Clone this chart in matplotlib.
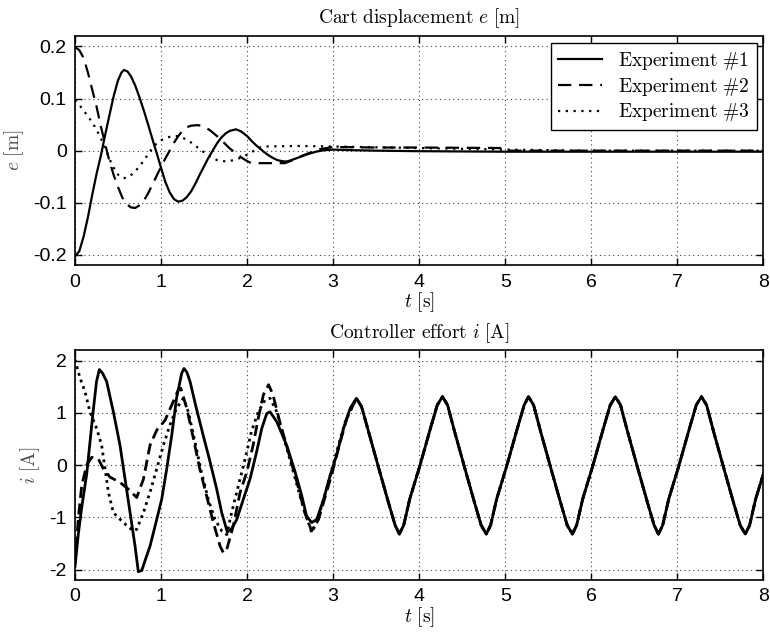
import matplotlib
matplotlib.use("Agg")
import matplotlib.pyplot as plt

plt.rcParams['mathtext.fontset'] = 'cm'
plt.rcParams['font.family'] = ['Liberation Sans', 'DejaVu Sans']

# ---- cart displacement e [m] ----
t_e1 = [0.0, 0.05, 0.10, 0.15, 0.20, 0.25, 0.30, 0.35, 0.40, 0.45, 0.50, 0.54, 0.57,
        0.61, 0.65, 0.70, 0.75, 0.80, 0.85, 0.90, 0.95, 1.00, 1.05, 1.10, 1.15, 1.20,
        1.25, 1.30, 1.35, 1.40, 1.45, 1.50, 1.55, 1.60, 1.65, 1.70, 1.75, 1.80, 1.87,
        1.93, 2.00, 2.05, 2.10, 2.15, 2.20, 2.25, 2.30, 2.35, 2.40, 2.45, 2.50, 2.60,
        2.70, 2.80, 2.90, 3.0, 3.2, 3.5, 4.0, 5.0, 8.0]
e1 = [-0.203, -0.193, -0.165, -0.128, -0.085, -0.045, -0.010, 0.030, 0.068, 0.105, 0.135, 0.150, 0.155,
      0.152, 0.143, 0.125, 0.102, 0.077, 0.050, 0.022, -0.005, -0.033, -0.060, -0.080, -0.093, -0.098,
      -0.096, -0.089, -0.078, -0.063, -0.046, -0.030, -0.014, 0.000, 0.014, 0.025, 0.033, 0.038, 0.041,
      0.037, 0.028, 0.019, 0.011, 0.004, -0.003, -0.009, -0.014, -0.018, -0.020, -0.021, -0.019, -0.013,
      -0.007, -0.002, 0.001, 0.002, 0.001, 0.0, -0.001, -0.002, -0.002]

t_e2 = [0.0, 0.05, 0.10, 0.15, 0.20, 0.25, 0.30, 0.35, 0.40, 0.45, 0.50, 0.55, 0.60,
        0.65, 0.70, 0.75, 0.80, 0.85, 0.90, 0.95, 1.00, 1.05, 1.10, 1.15, 1.20, 1.25,
        1.30, 1.35, 1.43, 1.50, 1.57, 1.65, 1.72, 1.80, 1.88, 1.95, 2.00, 2.05, 2.44,
        2.55, 2.65, 2.73, 2.85, 3.0, 3.5, 4.0, 5.0, 5.05, 8.0]
e2 = [0.199, 0.193, 0.178, 0.150, 0.117, 0.085, 0.047, 0.013, -0.020, -0.047, -0.070, -0.090, -0.103,
      -0.109, -0.110, -0.105, -0.096, -0.082, -0.065, -0.048, -0.031, -0.015, 0.000, 0.015, 0.028, 0.038,
      0.045, 0.048, 0.049, 0.046, 0.039, 0.028, 0.017, 0.004, -0.006, -0.015, -0.020, -0.024, -0.024,
      -0.017, -0.009, -0.004, 0.003, 0.007, 0.006, 0.006, 0.005, 0.0, 0.0]

t_e3 = [0.0, 0.05, 0.10, 0.15, 0.21, 0.26, 0.30, 0.35, 0.40, 0.45, 0.50, 0.56, 0.62,
        0.68, 0.74, 0.80, 0.86, 0.93, 1.00, 1.07, 1.13, 1.18, 1.25, 1.33, 1.41, 1.49,
        1.57, 1.65, 1.76, 1.85, 1.92, 2.00, 2.08, 2.15, 2.20, 2.60, 3.0, 4.0, 5.0, 6.0, 8.0]
e3 = [0.097, 0.088, 0.077, 0.066, 0.052, 0.037, 0.024, 0.005, -0.016, -0.033, -0.046, -0.053, -0.051,
      -0.043, -0.032, -0.019, -0.004, 0.011, 0.020, 0.025, 0.028, 0.028, 0.025, 0.018, 0.008, -0.002,
      -0.012, -0.018, -0.021, -0.018, -0.014, -0.008, 0.000, 0.006, 0.008, 0.009, 0.008, 0.005, 0.002, 0.0, 0.0]

# ---- controller effort i [A] ----
# steady oscillation shared by all three experiments after ~3.3 s
t_tail = [3.27, 3.33, 3.41, 3.52, 3.64, 3.72, 3.77, 3.82, 3.89, 4.01, 4.13, 4.21,
          4.27, 4.33, 4.41, 4.52, 4.64, 4.72, 4.78, 4.83, 4.90, 5.02, 5.14, 5.22,
          5.27, 5.33, 5.41, 5.52, 5.64, 5.72, 5.78, 5.83, 5.90, 6.02, 6.14, 6.22,
          6.28, 6.34, 6.42, 6.53, 6.65, 6.73, 6.78, 6.83, 6.90, 7.02, 7.14, 7.22,
          7.28, 7.34, 7.42, 7.53, 7.65, 7.73, 7.79, 7.84, 7.91, 8.0]
i_tail = [1.28, 1.12, 0.65, 0.0, -0.7, -1.15, -1.32, -1.15, -0.65, 0.0, 0.7, 1.15,
          1.31, 1.15, 0.65, 0.0, -0.7, -1.15, -1.32, -1.15, -0.65, 0.0, 0.7, 1.15,
          1.31, 1.15, 0.65, 0.0, -0.7, -1.15, -1.32, -1.15, -0.65, 0.0, 0.7, 1.15,
          1.31, 1.15, 0.65, 0.0, -0.7, -1.15, -1.32, -1.15, -0.65, 0.0, 0.7, 1.15,
          1.31, 1.15, 0.65, 0.0, -0.7, -1.15, -1.32, -1.15, -0.65, -0.17]

t_i1 = [0.0, 0.04, 0.078, 0.136, 0.213, 0.25, 0.283, 0.32, 0.368, 0.446, 0.523, 0.581, 0.64,
        0.698, 0.736, 0.775, 0.82, 0.872, 0.95, 1.008, 1.066, 1.124, 1.18, 1.24, 1.267, 1.30, 1.337,
        1.41, 1.49, 1.57, 1.647, 1.705, 1.77, 1.82, 1.88, 1.957, 2.035, 2.11, 2.17, 2.229,
        2.267, 2.345, 2.46, 2.558, 2.636, 2.69, 2.75, 2.81, 2.89, 2.965, 3.04, 3.12, 3.198]
i1 = [-1.94, -1.3, -0.81, -0.17, 1.06, 1.6, 1.83, 1.76, 1.60, 1.02, 0.38, -0.26, -0.91,
      -1.55, -2.04, -2.02, -1.8, -1.55, -1.04, -0.65, -0.07, 0.57, 1.28, 1.76, 1.85, 1.78, 1.60,
      1.09, 0.57, 0.06, -0.46, -0.91, -1.28, -1.22, -1.04, -0.65, -0.26, 0.25, 0.70, 0.99,
      1.02, 0.83, 0.38, -0.13, -0.59, -0.97, -1.1, -1.04, -0.65, -0.2, 0.19, 0.70, 1.09]

t_i2 = [0.0, 0.04, 0.078, 0.136, 0.194, 0.27, 0.33, 0.407, 0.523, 0.62, 0.717, 0.795,
        0.872, 0.95, 1.047, 1.124, 1.2, 1.23, 1.299, 1.376, 1.45, 1.53, 1.608, 1.686,
        1.725, 1.764, 1.84, 1.919, 1.996, 2.07, 2.13, 2.19, 2.25, 2.30, 2.38, 2.48,
        2.58, 2.67, 2.75, 2.83, 2.91, 2.99, 3.06, 3.16]
i2 = [-1.9, -1.0, -0.39, 0.0, 0.15, 0.12, -0.07, -0.23, -0.33, -0.46, -0.62, -0.27,
      0.38, 0.67, 0.86, 1.15, 1.44, 1.47, 1.09, 0.51, -0.07, -0.59, -1.10, -1.55,
      -1.68, -1.61, -1.16, -0.52, -0.135, 0.38, 0.9, 1.35, 1.54, 1.35, 0.83, 0.25,
      -0.33, -0.91, -1.26, -1.04, -0.59, -0.14, 0.31, 0.9]

t_i3 = [0.0, 0.058, 0.116, 0.174, 0.252, 0.31, 0.349, 0.388, 0.446, 0.562, 0.678, 0.717,
        0.795, 0.872, 0.95, 1.027, 1.104, 1.18, 1.26, 1.317, 1.395, 1.47, 1.55, 1.627,
        1.705, 1.764, 1.82, 1.899, 1.977, 2.05, 2.13, 2.21, 2.267, 2.345, 2.44, 2.54,
        2.636, 2.713, 2.75, 2.81, 2.89, 2.965, 3.04, 3.14]
i3 = [2.02, 1.67, 1.41, 1.02, 0.70, 0.38, -0.07, -0.52, -0.91, -1.10, -1.26, -1.23,
      -0.91, -0.52, -0.07, 0.38, 0.77, 1.09, 1.28, 1.02, 0.44, -0.14, -0.66, -1.04,
      -1.26, -1.33, -0.91, -0.39, 0.12, 0.64, 1.02, 1.25, 1.28, 1.02, 0.44, -0.14,
      -0.72, -1.10, -1.29, -1.10, -0.65, -0.2, 0.25, 0.83]

labels = [r'$\mathrm{Experiment}\ \#1$', r'$\mathrm{Experiment}\ \#2$', r'$\mathrm{Experiment}\ \#3$']

fig = plt.figure(figsize=(7.7, 6.33), dpi=100)
ax1 = fig.add_axes([0.0974, 0.581, 0.894, 0.362])
ax2 = fig.add_axes([0.0974, 0.0837, 0.894, 0.363])

dash = (0, (6, 3.5))
dot = (0, (1, 2.5))

ax1.plot(t_e1, e1, color='black', lw=1.6, ls='-', label=labels[0])
ax1.plot(t_e2, e2, color='black', lw=1.6, ls=dash, label=labels[1])
ax1.plot(t_e3, e3, color='black', lw=1.6, ls=dot, label=labels[2])

ax2.plot(t_i1 + t_tail, i1 + i_tail, color='black', lw=2.0, ls='-')
ax2.plot(t_i2 + t_tail, i2 + i_tail, color='black', lw=2.0, ls=(0, (4, 2)))
ax2.plot(t_i3 + t_tail, i3 + i_tail, color='black', lw=2.0, ls=(0, (1, 1.5)))

for ax in (ax1, ax2):
    ax.set_xlim(0, 8)
    ax.set_xticks(range(0, 9))
    ax.grid(True, color='0.25', ls=(0, (1, 3)), lw=0.8)
    ax.tick_params(direction='in', top=True, right=True, length=5, width=1,
                   labelsize=14, pad=6)
    for s in ax.spines.values():
        s.set_linewidth(1.2)

ax1.set_ylim(-0.22, 0.22)
ax1.set_yticks([-0.2, -0.1, 0, 0.1, 0.2])
ax1.set_yticklabels(['-0.2', '-0.1', '0', '0.1', '0.2'])
ax2.set_ylim(-2.2, 2.2)
ax2.set_yticks([-2, -1, 0, 1, 2])
ax2.set_yticklabels(['-2', '-1', '0', '1', '2'])

ax1.set_title(r'$\mathrm{Cart\ displacement}\ e\ [\mathrm{m}]$', fontsize=14, pad=9)
ax1.set_xlabel(r'$t\ [\mathrm{s}]$', fontsize=14, labelpad=0)
ax1.set_ylabel(r'$e\ [\mathrm{m}]$', fontsize=14, color='0.3', labelpad=5)
ax2.set_title(r'$\mathrm{Controller\ effort}\ i\ [\mathrm{A}]$', fontsize=14, pad=9)
ax2.set_xlabel(r'$t\ [\mathrm{s}]$', fontsize=14, labelpad=0)
ax2.set_ylabel(r'$i\ [\mathrm{A}]$', fontsize=14, color='0.3', labelpad=5)

leg = ax1.legend(loc='upper right', fontsize=14, fancybox=False, framealpha=1,
                 edgecolor='black', handlelength=2.3, borderaxespad=0.35,
                 labelspacing=0.2, borderpad=0.35)
leg.get_frame().set_linewidth(1.0)

fig.savefig('out.png', dpi=100)
